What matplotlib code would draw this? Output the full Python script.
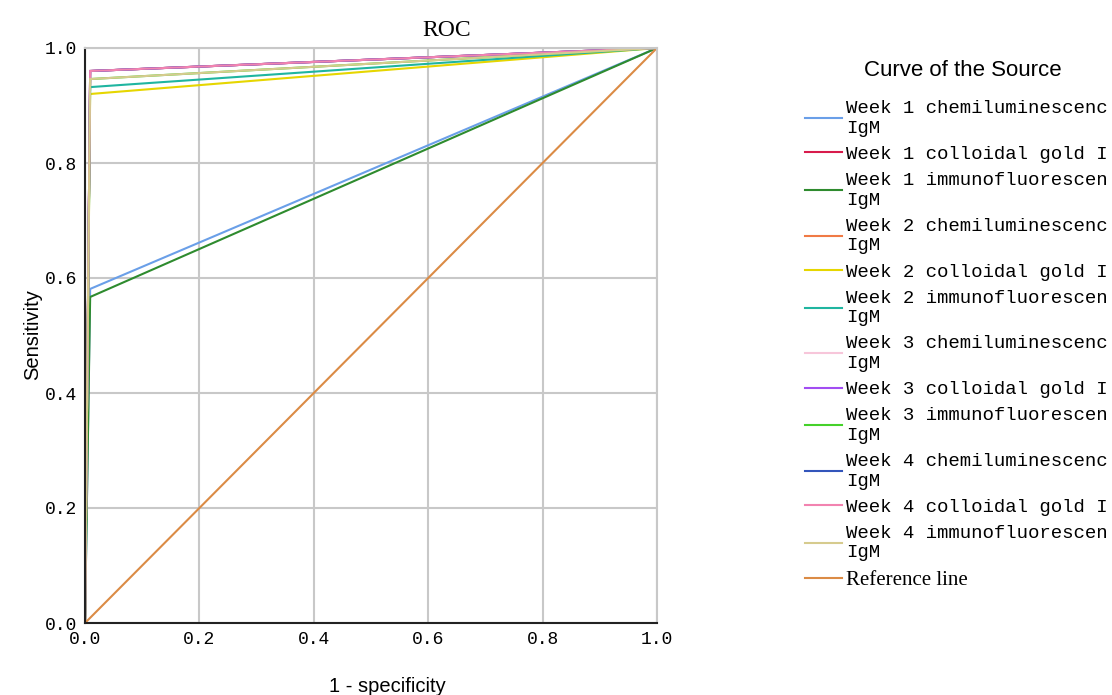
import matplotlib
matplotlib.use("Agg")
import matplotlib.pyplot as plt

# ---- data ----
series_labels = [
    "Week 1 chemiluminescenc\nIgM",
    "Week 1 colloidal gold I",
    "Week 1 immunofluorescen\nIgM",
    "Week 2 chemiluminescenc\nIgM",
    "Week 2 colloidal gold I",
    "Week 2 immunofluorescen\nIgM",
    "Week 3 chemiluminescenc\nIgM",
    "Week 3 colloidal gold I",
    "Week 3 immunofluorescen\nIgM",
    "Week 4 chemiluminescenc\nIgM",
    "Week 4 colloidal gold I",
    "Week 4 immunofluorescen\nIgM",
]
series_fpr = [0.009, 0.009, 0.009, 0.009, 0.009, 0.009,
              0.009, 0.009, 0.009, 0.009, 0.009, 0.009]
series_tpr = [0.581, 0.960, 0.567, 0.960, 0.920, 0.932,
              0.960, 0.960, 0.946, 0.960, 0.960, 0.946]
series_colors = ["#6A9FE8", "#D81B4C", "#2E8B2E", "#F07A45", "#E6D600", "#1FB5A0",
                 "#F7C6DA", "#A24DF2", "#45D12A", "#3355BB", "#F283B0", "#D6CB8E"]
ref_label = "Reference line"
ref_x = [0.0, 1.0]
ref_y = [0.0, 1.0]
ref_color = "#DB8B45"
tick_values = [0.0, 0.2, 0.4, 0.6, 0.8, 1.0]
tick_labels = ["0.0", "0.2", "0.4", "0.6", "0.8", "1.0"]

W, H = 1112, 695
fig = plt.figure(figsize=(W / 100, H / 100), dpi=100)
ax = fig.add_axes([85 / W, 1 - 623 / H, (657 - 85) / W, (623 - 48) / H])

for lab, f, t, c in zip(series_labels, series_fpr, series_tpr, series_colors):
    ax.plot([0.0, f, 1.0], [0.0, t, 1.0], color=c, lw=1.5, label=lab, solid_joinstyle="miter")
ax.plot(ref_x, ref_y, color=ref_color, lw=1.5, label=ref_label)

ax.set_xlim(0, 1)
ax.set_ylim(0, 1)
ax.set_xticks(tick_values)
ax.set_yticks(tick_values)
ax.set_xticklabels(tick_labels, family="Liberation Mono", fontsize=13)
ax.set_yticklabels(tick_labels, family="Liberation Mono", fontsize=13)
ax.tick_params(length=0, pad=6)
ax.grid(True, color="#C8C8C8", lw=1.5)
ax.set_axisbelow(True)
for s in ["top", "right"]:
    ax.spines[s].set_color("#C8C8C8")
    ax.spines[s].set_linewidth(1.5)
for s in ["left", "bottom"]:
    ax.spines[s].set_color("#222222")
    ax.spines[s].set_linewidth(1.5)

fig.text(447 / W, 1 - 30 / H, "ROC", family="Liberation Serif", fontsize=17,
         ha="center", va="center")
fig.text(33 / W, 1 - 335 / H, "Sensitivity", family="Liberation Sans", fontsize=14.5,
         rotation=90, ha="center", va="center")
fig.text(387 / W, 1 - 686 / H, "1 - specificity", family="Liberation Sans", fontsize=14.5,
         ha="center", va="center")
fig.text(963 / W, 1 - 71 / H, "Curve of the Source", family="Liberation Sans", fontsize=16,
         ha="center", va="center")

leg = fig.legend(loc="upper left", bbox_to_anchor=(805 / W, 1 - 100 / H),
                 frameon=False, borderpad=0, borderaxespad=0,
                 prop={"family": "Liberation Mono", "size": 13.7},
                 handlelength=1.95, handletextpad=0.2, labelspacing=0.475)
for h in leg.get_lines():
    h.set_linewidth(1.5)
leg.get_texts()[-1].set_fontfamily("Liberation Serif")
leg.get_texts()[-1].set_fontsize(15)

fig.savefig("out.png", dpi=100)
